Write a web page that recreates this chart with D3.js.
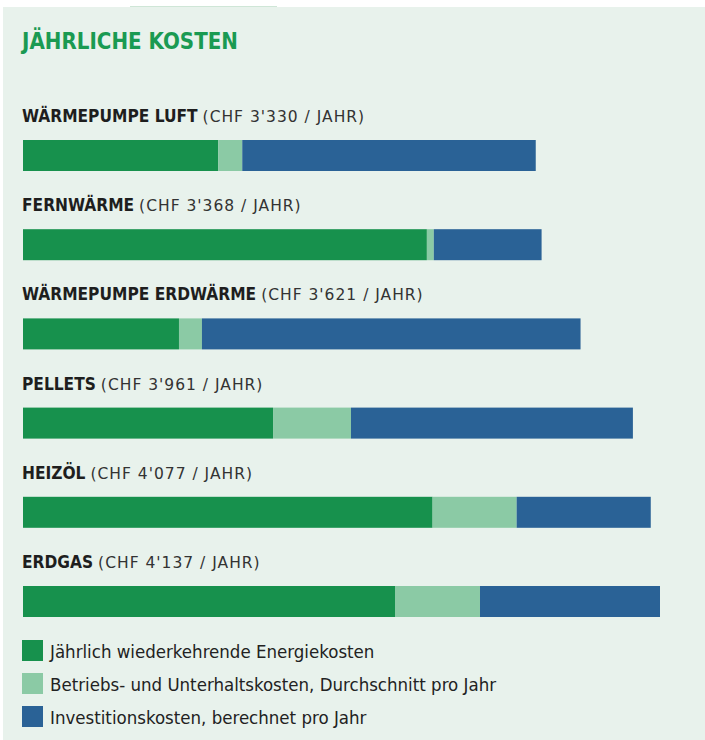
<!DOCTYPE html>
<html>
<head>
<meta charset="utf-8">
<script src="https://cdn.jsdelivr.net/npm/d3@7"></script>
<style>
  html, body { margin: 0; padding: 0; background: #ffffff; }
  svg { display: block; }
</style>
</head>
<body>
<div id="chart"></div>
<script>
// ---- data ----
const categories = ["WÄRMEPUMPE LUFT", "FERNWÄRME", "WÄRMEPUMPE ERDWÄRME", "PELLETS", "HEIZÖL", "ERDGAS"];
const totalLabels = ["(CHF 3'330 / JAHR)", "(CHF 3'368 / JAHR)", "(CHF 3'621 / JAHR)", "(CHF 3'961 / JAHR)", "(CHF 4'077 / JAHR)", "(CHF 4'137 / JAHR)"];
const energyCosts = [1268, 2623, 1013, 1624, 2660, 2416];
const operatingCosts = [156, 45, 149, 506, 546, 552];
const investmentCosts = [1906, 700, 2459, 1831, 871, 1169];
const seriesNames = ["Jährlich wiederkehrende Energiekosten", "Betriebs- und Unterhaltskosten, Durchschnitt pro Jahr", "Investitionskosten, berechnet pro Jahr"];
const title = "JÄHRLICHE KOSTEN";

const colors = ["#17914d", "#8bcaa5", "#2a6296"];
const W = 705, H = 740;
const font = "'DejaVu Sans Condensed', 'Liberation Sans Narrow', 'Roboto', sans-serif";
const font2 = "'DejaVu Sans', 'Liberation Sans', sans-serif";

const svg = d3.select("#chart").append("svg").attr("width", W).attr("height", H);

// background panel
svg.append("rect").attr("x", 3).attr("y", 7).attr("width", W - 3).attr("height", H - 7).attr("fill", "#e8f2ec");
svg.append("line").attr("x1", 130).attr("x2", 277).attr("y1", 6.5).attr("y2", 6.5)
  .attr("stroke", "#cfe6d7").attr("stroke-width", 1);

// title
svg.append("text").attr("x", 22).attr("y", 49).text(title)
  .attr("font-family", font).attr("font-size", 23).attr("font-weight", "bold")
  .attr("fill", "#1a9a52").attr("textLength", 216).attr("lengthAdjust", "spacingAndGlyphs");

const data = categories.map((c, i) => ({ cat: c, label: totalLabels[i], energy: energyCosts[i], operating: operatingCosts[i], investment: investmentCosts[i] }));
const keys = ["energy", "operating", "investment"];
const stack = d3.stack().keys(keys)(data);

const x = d3.scaleLinear().domain([0, 4137]).range([23, 660]);
const y = d3.scalePoint().domain(categories).range([140, 586]);
const barH = 31;

// labels
const labels = svg.append("g").selectAll("text").data(data).join("text")
  .attr("x", 22).attr("y", d => y(d.cat) - 18);
labels.append("tspan").attr("font-family", font).attr("font-size", 17.2).attr("font-weight", "bold")
  .attr("fill", "#1e1e1e").text(d => d.cat);
labels.append("tspan").attr("font-family", font2).attr("font-size", 15.5).attr("letter-spacing", 1.0)
  .attr("fill", "#333").attr("dx", 5).text(d => d.label);

// bars
const layers = svg.append("g").selectAll("g").data(stack).join("g").attr("fill", (d, i) => colors[i]);
layers.selectAll("rect").data(d => d).join("rect")
  .attr("x", d => x(d[0]))
  .attr("width", d => x(d[1]) - x(d[0]))
  .attr("y", d => y(d.data.cat))
  .attr("height", barH);

// legend
const lg = svg.append("g").selectAll("g").data(seriesNames).join("g")
  .attr("transform", (d, i) => `translate(22, ${640 + i * 33})`);
lg.append("rect").attr("width", 21).attr("height", 21).attr("fill", (d, i) => colors[i]);
lg.append("text").attr("x", 28).attr("y", 17.5).text(d => d)
  .attr("font-family", font).attr("font-size", 18.5).attr("fill", "#222");
</script>
</body>
</html>
